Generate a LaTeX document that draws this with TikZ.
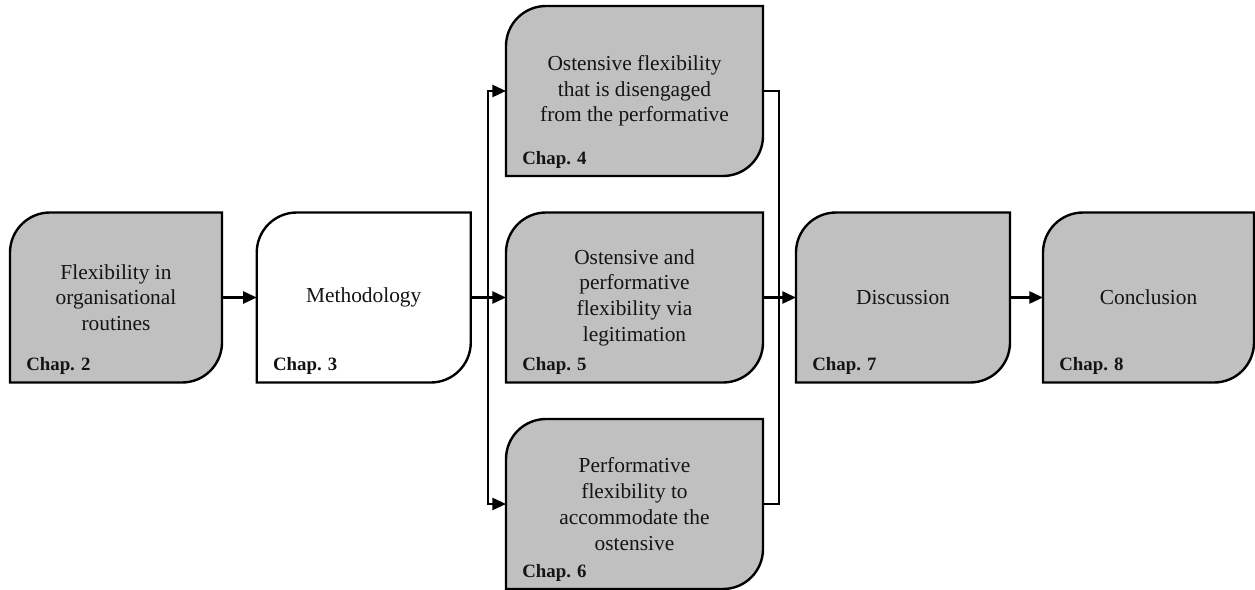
\documentclass[tikz,border=0pt]{standalone}
\usepackage{fontspec}
\setmainfont{Liberation Serif}
\usetikzlibrary{arrows.meta,positioning,backgrounds}
\definecolor{shade}{RGB}{192,192,192}
\definecolor{ink}{RGB}{20,20,20}
\tikzset{
  >={Triangle[length=3.4mm,width=3mm]},
  chapbox/.style={minimum width=#1,minimum height=4.25cm,inner sep=0pt,outer sep=0pt,
    align=center,text=ink,font=\fontsize{15.2pt}{18.3pt}\selectfont},
  chapbox/.default=5.35cm,
  chaptag/.style={anchor=base west,inner sep=0pt,text=ink,
    font=\fontsize{13.4pt}{16pt}\selectfont\bfseries},
  link/.style={line width=1.7pt,draw=black},
}
\newcommand{\cornerr}{1cm}

\begin{document}
\begin{tikzpicture}
        \useasboundingbox (0,0) rectangle (31.375,-14.75);
        % chapters
        \node[chapbox=5.3cm] (c2) at (2.9,-7.4375) {Flexibility in\\organisational\\routines};
        \node[chapbox] (c3) at (9.094,-7.4375) {Methodology};
        \node[chapbox=6.425cm] (c4) at (15.8625,-2.275) {Ostensive flexibility\\that is disengaged\\from the performative};
        \node[chapbox=6.425cm] (c5) at (15.8625,-7.4375) {Ostensive and\\performative\\flexibility via\\legitimation};
        \node[chapbox=6.425cm] (c6) at (15.8625,-12.6) {Performative\\flexibility to\\accommodate the\\ostensive};
        \node[chapbox] (c7) at (22.575,-7.4375) {Discussion};
        \node[chapbox=5.275cm] (c8) at (28.7125,-7.4375) {Conclusion};
        \foreach \n in {2,...,8}
          \node[chaptag] (t\n) at ([shift={(0.4,0.3)}]c\n.south west) {Chap. \n};
        % box outlines: round top left and bottom right only
        \begin{scope}[on background layer]
          \foreach \n/\c in {c2/shade,c3/white,c4/shade,c5/shade,c6/shade,c7/shade,c8/shade}
            \filldraw[fill=\c,link] (\n.south west) -- ([yshift=-\cornerr]\n.north west)
              arc[start angle=180,end angle=90,radius=\cornerr] -- (\n.north east)
              -- ([yshift=\cornerr]\n.south east)
              arc[start angle=0,end angle=-90,radius=\cornerr] -- cycle;
        \end{scope}
        % connectors
        \coordinate (split) at (12.2,-7.4375);
        \coordinate (merge) at (19.475,-7.4375);
        \draw[link,->] (c2) -- (c3);
        \draw[link,->] (c3) -- (c5);
        \draw[link,->] (split) |- (c4);
        \draw[link,->] (split) |- (c6);
        \draw[link] (c4) -| (merge) |- (c6);
        \draw[link,->] (c5) -- (c7);
        \draw[link,->] (c7) -- (c8);
      \end{tikzpicture}
\end{document}
